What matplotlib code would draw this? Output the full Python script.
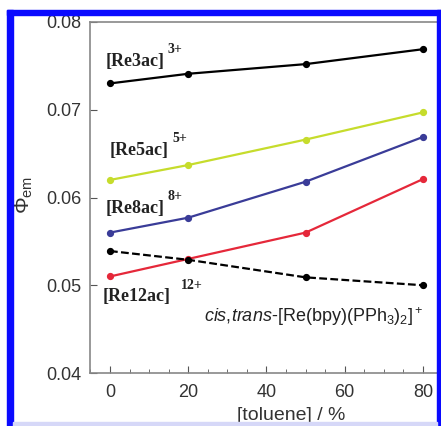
import matplotlib
matplotlib.use("Agg")
import matplotlib.pyplot as plt
from matplotlib.patches import Rectangle
from matplotlib.ticker import MultipleLocator

# toluene content (%) and emission quantum yields
toluene = [0, 20, 50, 80]
re3ac = [0.0730, 0.0741, 0.0752, 0.0769]
re5ac = [0.0620, 0.0637, 0.0666, 0.0697]
re8ac = [0.0560, 0.0577, 0.0618, 0.0669]
re12ac = [0.0510, 0.0530, 0.0560, 0.0621]
monomer = [0.0539, 0.0529, 0.0509, 0.0500]

plt.rcParams['font.family'] = ['Liberation Sans', 'DejaVu Sans']
plt.rcParams['mathtext.fontset'] = 'custom'
plt.rcParams['mathtext.rm'] = 'Liberation Sans'
plt.rcParams['mathtext.it'] = 'Liberation Sans:italic'
plt.rcParams['mathtext.bf'] = 'Liberation Sans:bold'

W, H = 441, 426
fig = plt.figure(figsize=(W / 100, H / 100), dpi=100)
ax = fig.add_axes([90 / W, 1 - 373 / H, 351 / W, 351 / H])


def px(x, y):
    # pixel position (from top-left) -> figure fraction
    return x / W, 1 - y / H


ms = 4.2
ax.plot(toluene, re3ac, '-o', color='black', lw=1.6, ms=ms)
ax.plot(toluene, re5ac, '-o', color='#c6dc2c', lw=1.6, ms=ms)
ax.plot(toluene, re8ac, '-o', color='#3a3c98', lw=1.6, ms=ms)
ax.plot(toluene, re12ac, '-o', color='#e5283a', lw=1.6, ms=ms)
ax.plot(toluene, monomer, '--o', color='black', lw=1.6, ms=ms, dashes=(3.5, 1.5))

ax.set_xlim(-5.1, 84.6)
ax.set_ylim(0.04, 0.08)
ax.xaxis.set_major_locator(MultipleLocator(20))
ax.xaxis.set_minor_locator(MultipleLocator(5))
ax.set_yticks([0.04, 0.05, 0.06, 0.07, 0.08])
ax.set_yticklabels(['0.04', '0.05', '0.06', '0.07', '0.08'])
ax.tick_params(axis='both', which='both', direction='in', color='#555555')
ax.tick_params(axis='both', which='major', length=5, labelsize=13, labelcolor='#333333')
ax.tick_params(axis='x', which='major', pad=8)
ax.tick_params(axis='y', which='major', pad=6)
ax.tick_params(axis='x', which='minor', length=3)
for side in ['left', 'bottom', 'top', 'right']:
    ax.spines[side].set_color('#888888')
    ax.spines[side].set_linewidth(1.2)

ax.set_xlabel('[toluene] / %', fontsize=14, color='#333333')
ax.xaxis.set_label_coords((291 - 90) / 351, -(415 - 373) / 351)
ax.xaxis.label.set_va('center')
ax.set_ylabel(r'$\Phi_{\mathrm{em}}$', fontsize=15, color='#333333')
ax.yaxis.set_label_coords(-(90 - 35) / 351, (373 - 195) / 351)

# series labels
serif = dict(family=['Liberation Serif', 'DejaVu Serif'], fontweight='bold', color='#222222')
labels = [('[Re3ac]', '3+', 106, 66, 167, 53),
          ('[Re5ac]', '5+', 110, 155, 172, 142),
          ('[Re8ac]', '8+', 106, 213, 168, 200),
          ('[Re12ac]', '12+', 103, 301, 181, 289)]
for name, charge, x0, y0, x1, y1 in labels:
    fig.text(*px(x0, y0), name, fontsize=13, ha='left', va='baseline', **serif)
    fig.text(*px(x1, y1), charge, fontsize=10, ha='left', va='baseline', **serif)

fig.text(*px(204, 322), r'$\mathit{cis{,}trans}$-[Re(bpy)(PPh$_3$)$_2$]$^+$',
         fontsize=13, ha='left', va='baseline', color='#222222')

# blue frame around the panel
blue = '#0a0aff'
fig.patches.append(Rectangle(px(7, 426), 6 / W, 416 / H, transform=fig.transFigure,
                             color=blue, zorder=10))
fig.patches.append(Rectangle(px(7, 15), 434 / W, 5 / H, transform=fig.transFigure,
                             color=blue, zorder=10))
fig.patches.append(Rectangle(px(437, 426), 4 / W, 416 / H, transform=fig.transFigure,
                             color=blue, zorder=10))
fig.patches.append(Rectangle(px(13, 426), 424 / W, 4 / H, transform=fig.transFigure,
                             color='#d6d8f8', zorder=10))

fig.savefig('out.png', dpi=100)
